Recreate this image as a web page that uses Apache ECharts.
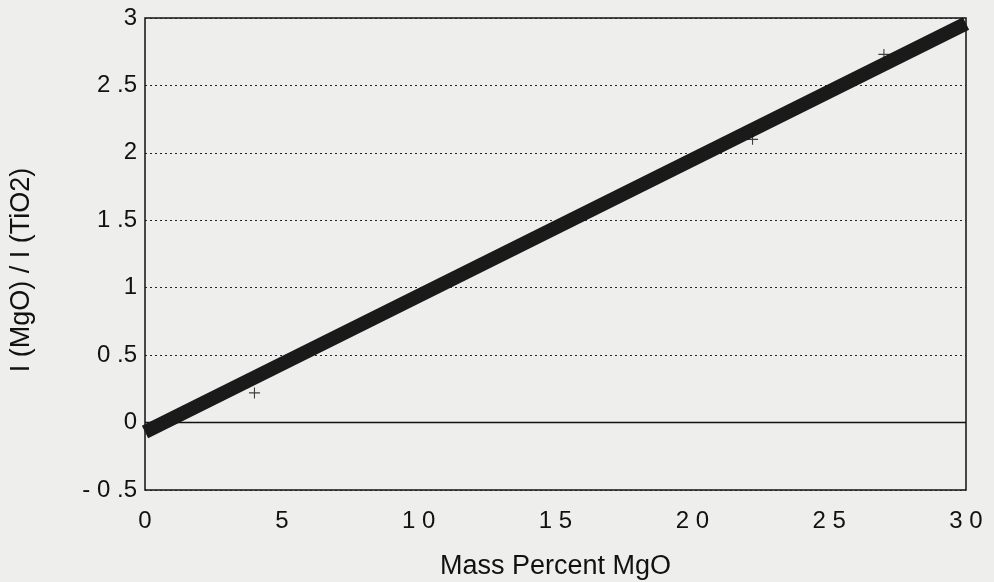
<!DOCTYPE html>
<html>
<head>
<meta charset="utf-8">
<script src="https://cdn.jsdelivr.net/npm/echarts@6/dist/echarts.min.js"></script>
<style>
html,body{margin:0;padding:0;background:#eeeeec;}
#c{width:994px;height:582px;}
</style>
</head>
<body>
<div id="c"></div>
<script>
const xTickValues = [0, 5, 10, 15, 20, 25, 30];
const xTickLabels = ["0", "5", "1 0", "1 5", "2 0", "2 5", "3 0"];
const yTickValues = [-0.5, 0, 0.5, 1, 1.5, 2, 2.5, 3];
const yTickLabels = ["- 0 .5", "0", "0 .5", "1", "1 .5", "2", "2 .5", "3"];
const pointX = [4, 22.2, 27];
const pointY = [0.22, 2.1, 2.73];
const fitX = [0, 30];
const fitY = [-0.07, 2.96];
const xTitle = 'Mass Percent MgO';
const yTitle = 'I (MgO) / I (TiO2)';

const chart = echarts.init(document.getElementById('c'));
const lab = (vals, labs) => v => { const i = vals.findIndex(t => Math.abs(t - v) < 1e-6); return i >= 0 ? labs[i] : ''; };
chart.setOption({
  backgroundColor: '#eeeeec',
  animation: false,
  grid: {left: 145, right: 28, top: 18, bottom: 92, outerBoundsMode: 'none', containLabel: false, show: true, borderColor: '#111', borderWidth: 1.5, backgroundColor: 'transparent'},
  graphic: [{
    type: 'text', x: 22, y: 270, rotation: Math.PI / 2,
    style: {text: yTitle, fill: '#111', fontSize: 27, fontFamily: 'Liberation Sans', align: 'center', verticalAlign: 'middle'}
  }],
  xAxis: {
    type: 'value', min: 0, max: 30, interval: 5,
    axisLine: {show: false}, axisTick: {show: false}, splitLine: {show: false},
    axisLabel: {formatter: lab(xTickValues, xTickLabels), color: '#111', fontSize: 24, fontFamily: 'Liberation Sans', margin: 19},
    name: xTitle, nameLocation: 'middle', nameGap: 63,
    nameTextStyle: {color: '#111', fontSize: 27, fontFamily: 'Liberation Sans'}
  },
  yAxis: {
    type: 'value', min: -0.5, max: 3, interval: 0.5,
    axisLine: {show: false}, axisTick: {show: false},
    splitLine: {show: true, lineStyle: {color: '#222', type: [2, 3], width: 1}},
    axisLabel: {formatter: lab(yTickValues, yTickLabels), color: '#111', fontSize: 24, fontFamily: 'Liberation Sans', margin: 8}
  },
  series: [
    {
      type: 'line', data: [[0, 0], [30, 0]], symbol: 'none', silent: true,
      lineStyle: {color: '#111', width: 1.5}
    },
    {
      type: 'line', data: fitX.map((x, i) => [x, fitY[i]]), symbol: 'none', clip: true,
      lineStyle: {color: '#1a1a1a', width: 14}
    },
    {
      type: 'scatter', data: pointX.map((x, i) => [x, pointY[i]]),
      symbol: 'path://M4.5,0h1v10h-1z M0,4.5h10v1h-10z', symbolSize: 11,
      itemStyle: {color: '#111'}, z: 5
    }
  ]
});
</script>
</body>
</html>
